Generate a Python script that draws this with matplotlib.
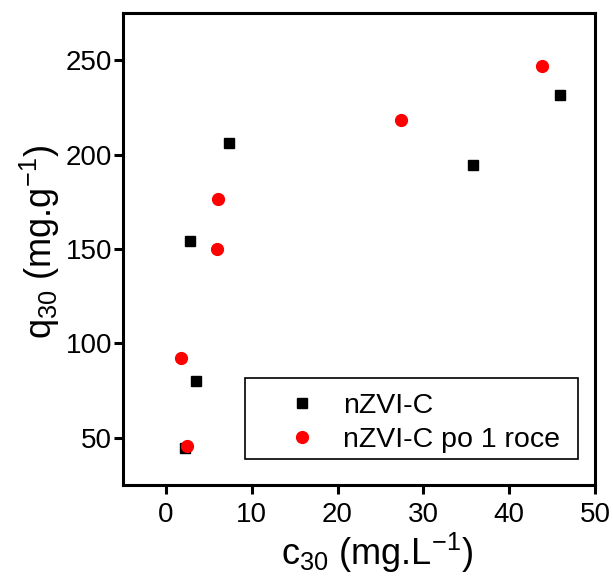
import matplotlib
matplotlib.use("Agg")
import matplotlib.pyplot as plt
from matplotlib.patches import Rectangle

# Sorption data
c30_fresh = [2.2, 3.5, 2.8, 7.4, 35.8, 45.9]
q30_fresh = [44.5, 80.0, 154.0, 206.0, 194.3, 231.4]

c30_aged = [1.75, 2.5, 6.1, 5.9, 27.4, 43.8]
q30_aged = [92.4, 45.5, 176.3, 149.8, 218.2, 246.8]

plt.rcParams["font.family"] = ["Liberation Sans", "DejaVu Sans"]
plt.rcParams["mathtext.fontset"] = "custom"
plt.rcParams["mathtext.rm"] = "Liberation Sans"
plt.rcParams["mathtext.it"] = "Liberation Sans:italic"

fig = plt.figure(figsize=(6.13, 5.81), dpi=100)
ax = fig.add_axes([0.2007, 0.1652, 0.9706 - 0.2007, 0.9776 - 0.1652])

ax.plot(c30_fresh, q30_fresh, "s", color="black", markersize=7.5, label="nZVI-C")
ax.plot(c30_aged, q30_aged, "o", color="#ff0000", markersize=8.5, label="nZVI-C po 1 roce")

ax.set_xlim(-5, 50)
ax.set_ylim(25, 275)
ax.set_xticks([0, 10, 20, 30, 40, 50])
ax.set_yticks([50, 100, 150, 200, 250])

for side in ax.spines.values():
    side.set_linewidth(2.2)
ax.tick_params(axis="both", direction="out", length=6.5, width=2.2, labelsize=20)
ax.tick_params(axis="x", pad=6)
ax.tick_params(axis="y", pad=1.5)

ax.set_xlabel(r"$\mathregular{c_{30}}$ (mg.L$\mathregular{^{-1}}$)", fontsize=26)
ax.set_ylabel(r"$\mathregular{q_{30}}$ (mg.g$\mathregular{^{-1}}$)", fontsize=26)
ax.xaxis.set_label_coords(0.538, -0.098)
ax.yaxis.set_label_coords(-0.13, 0.515)

# legend entries without frame, box drawn separately (wider side padding)
ax.legend(loc="upper left", bbox_to_anchor=(0.319, 0.195), fontsize=20.5,
          frameon=False, borderpad=0, handlelength=2.0, handletextpad=0.44,
          borderaxespad=0, labelspacing=0.28)
ax.add_patch(Rectangle((0.2585, 0.0551), 0.7055, 0.1716, transform=ax.transAxes,
                       fill=False, edgecolor="black", linewidth=1.2, zorder=4))

fig.savefig("out.png", dpi=100)
